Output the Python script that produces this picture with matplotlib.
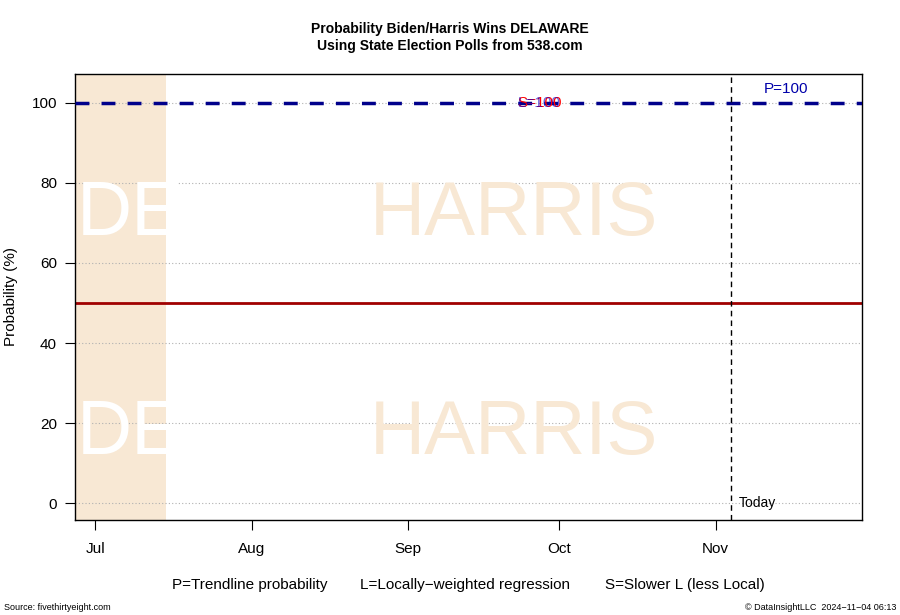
import numpy as np
import matplotlib
matplotlib.use("Agg")
import matplotlib.pyplot as plt
import matplotlib.dates as mdates
from datetime import datetime

plt.rcParams["font.family"] = ["Liberation Sans", "DejaVu Sans"]

# === Data ===
x_start = "2024-06-27"
x_end = "2024-11-30"
shade_end = "2024-07-15"        # Biden period
today = "2024-11-04"
month_ticks = ["2024-07-01", "2024-08-01", "2024-09-01", "2024-10-01", "2024-11-01"]
month_labels = ["Jul", "Aug", "Sep", "Oct", "Nov"]
y_ticks = [0, 20, 40, 60, 80, 100]

p_value = 100     # trendline probability
l_value = 100     # locally-weighted regression
s_value = 100     # slower L
mid_line = 50

d = lambda s: mdates.date2num(datetime.strptime(s, "%Y-%m-%d"))

fig = plt.figure(figsize=(9, 6.15), dpi=100)
ax = fig.add_axes([75/900, 1-520/615, 787/900, 446/615])

ax.set_xlim(d(x_start), d(x_end))
ax.set_ylim(-4.12, 107.12)

# shaded region (Biden)
ax.axvspan(d(x_start), d(shade_end), color="#f8e8d4", zorder=0, lw=0)

# grid
for yv in y_ticks:
    ax.axhline(yv, color="#b0b0b0", ls=(0, (1, 2)), lw=0.8, zorder=1)

# watermarks
xmid = d("2024-09-22")
for yv in [67, 12.3]:
    ax.text(xmid, yv, "HARRIS", color="#f8e8d4", fontsize=55, ha="center", va="baseline", zorder=1)
    ax.text(d(x_start) + 0.3, yv, "DE", color="white", fontsize=55, ha="left", va="baseline", zorder=1)

# lines
ax.axhline(mid_line, color="#a00000", lw=2, zorder=2)
ax.axhline(p_value, color="#00008b", lw=2.5, ls=(0, (4, 3.5)), zorder=3)
ax.axvline(d(today), color="black", lw=1, ls=(0, (4, 3)), zorder=3)

ax.text(d("2024-09-27"), s_value, "S=100", color="red", fontsize=11, ha="center", va="center", zorder=4)
ax.text(d("2024-09-27"), l_value, "L=100", color="#0000cc", fontsize=11, ha="center", va="center", zorder=4, alpha=0.6)
ax.text(d("2024-11-15"), p_value + 3.5, "P=%d" % p_value, color="#0000aa", fontsize=11, ha="center", va="center", zorder=4)
ax.text(d(today) + 1.5, 0, "Today", fontsize=10, ha="left", va="center", zorder=4)

ax.set_xticks([d(m) for m in month_ticks])
ax.set_xticklabels(month_labels, fontsize=11)
ax.set_yticks(y_ticks)
ax.set_yticklabels([str(v) for v in y_ticks], fontsize=11)
ax.tick_params(axis="x", length=7, pad=9)
ax.tick_params(axis="y", length=7, pad=6)
ax.set_ylabel("Probability (%)", fontsize=11, labelpad=10)
for s in ax.spines.values():
    s.set_linewidth(1)

fig.text(0.5, 1-29/615, "Probability Biden/Harris Wins DELAWARE", ha="center", va="center",
         fontsize=10, fontweight="bold")
fig.text(0.5, 1-46/615, "Using State Election Polls from 538.com", ha="center", va="center",
         fontsize=10, fontweight="bold")

fig.text(250/900, 1-585/615, "P=Trendline probability", ha="center", va="center", fontsize=11)
fig.text(465/900, 1-585/615, "L=Locally\u2212weighted regression", ha="center", va="center", fontsize=11)
fig.text(685/900, 1-585/615, "S=Slower L (less Local)", ha="center", va="center", fontsize=11)

fig.text(4/900, 1-607/615, "Source: fivethirtyeight.com", ha="left", va="center", fontsize=6.5)
fig.text(896/900, 1-607/615, "\u00a9 DataInsightLLC  2024\u221211\u221204 06:13", ha="right", va="center", fontsize=6.5)

fig.savefig("out.png", dpi=100)
